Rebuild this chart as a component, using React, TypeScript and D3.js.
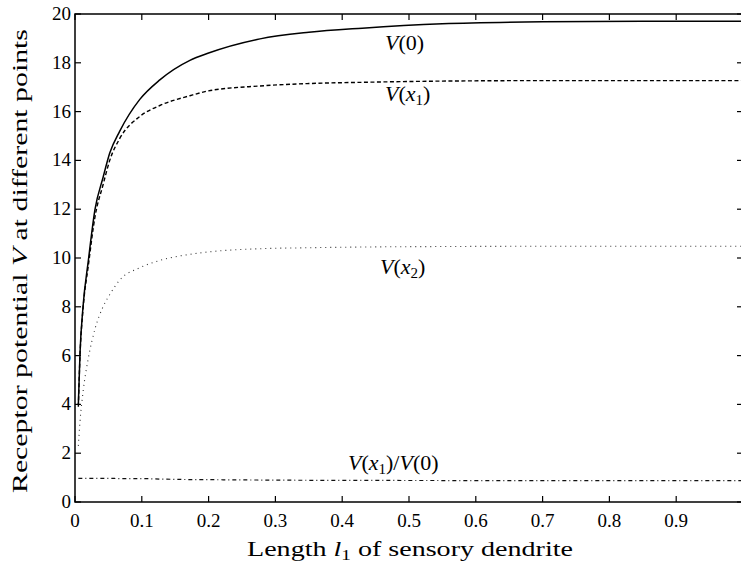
import React from "react";
import * as d3 from "d3";

const lengths = [0.005, 0.0075, 0.012, 0.02, 0.03, 0.042, 0.052, 0.067, 0.097, 0.127, 0.172, 0.2, 0.277, 0.35, 0.43, 0.55, 0.7, 0.85, 1.0];
const vZero = [4.0, 6.1, 8.0, 9.9, 12.0, 13.3, 14.3, 15.2, 16.5, 17.3, 18.1, 18.4, 18.98, 19.25, 19.42, 19.6, 19.68, 19.7, 19.7];
const vX1 = [3.9, 6.0, 7.9, 9.7, 11.7, 13.0, 14.0, 14.9, 15.8, 16.25, 16.65, 16.85, 17.05, 17.15, 17.2, 17.25, 17.27, 17.27, 17.27];
const vX2 = [2.3, 3.3, 4.5, 5.9, 7.1, 8.0, 8.5, 9.1, 9.6, 9.9, 10.15, 10.25, 10.38, 10.42, 10.45, 10.47, 10.48, 10.48, 10.48];
const ratio = [0.97, 0.97, 0.97, 0.97, 0.97, 0.97, 0.97, 0.96, 0.96, 0.94, 0.92, 0.915, 0.9, 0.89, 0.885, 0.88, 0.878, 0.878, 0.878];

const xTicks = [0, 0.1, 0.2, 0.3, 0.4, 0.5, 0.6, 0.7, 0.8, 0.9];
const yTicks = [0, 2, 4, 6, 8, 10, 12, 14, 16, 18, 20];

const W = 741;
const H = 569;
const FONT = "Liberation Serif";

export default function App() {
  const x = d3.scaleLinear().domain([0, 1]).range([75, 743]);
  const y = d3.scaleLinear().domain([0, 20]).range([502, 14]);

  const mk = (vals: number[]) =>
    d3
      .line<number>()
      .x((_, i) => x(lengths[i]))
      .y((v) => y(v))
      .curve(d3.curveMonotoneX)(vals) || "";

  const tickLen = 6;
  const sub = (t: string) => (
    <tspan style={{ fontSize: 15, fontFamily: FONT }} dy={4}>{t}</tspan>
  );
  const it = { fontStyle: "italic" as const, fontFamily: FONT };
  const ts = (size: number) => ({ fontFamily: FONT, fontSize: size });

  return (
    <svg
      width={W}
      height={H}
      style={{ position: "absolute", left: 0, top: 0, background: "#fff" }}
    >
      <rect x={0} y={0} width={W} height={H} fill="#fff" />
      {/* curves */}
      <path d={mk(vZero)} fill="none" stroke="#000" strokeWidth={1.5} />
      <path d={mk(vX1)} fill="none" stroke="#000" strokeWidth={1.4} strokeDasharray="4,2.5" />
      <path d={mk(vX2)} fill="none" stroke="#333" strokeWidth={1.1} strokeDasharray="1,4" />
      <path d={mk(ratio)} fill="none" stroke="#111" strokeWidth={1.2} strokeDasharray="4,3,1,3" />

      {/* frame */}
      <rect
        x={x(0)}
        y={y(20)}
        width={x(1) - x(0)}
        height={y(0) - y(20)}
        fill="none"
        stroke="#000"
        strokeWidth={1.5}
      />
      {/* ticks */}
      {xTicks.map((t) => (
        <g key={"xt" + t}>
          <line x1={x(t)} x2={x(t)} y1={y(0)} y2={y(0) - tickLen} stroke="#000" strokeWidth={1.2} />
          <line x1={x(t)} x2={x(t)} y1={y(20)} y2={y(20) + tickLen} stroke="#000" strokeWidth={1.2} />
          <text x={x(t)} y={527} textAnchor="middle" style={ts(19)}>
            {t === 0 ? "0" : String(t)}
          </text>
        </g>
      ))}
      {yTicks.map((t) => (
        <g key={"yt" + t}>
          <line x1={x(0)} x2={x(0) + tickLen} y1={y(t)} y2={y(t)} stroke="#000" strokeWidth={1.2} />
          <line x1={x(1)} x2={x(1) - tickLen} y1={y(t)} y2={y(t)} stroke="#000" strokeWidth={1.2} />
          <text x={71} y={y(t) + 6} textAnchor="end" style={ts(19)}>
            {String(t)}
          </text>
        </g>
      ))}

      {/* curve labels */}
      <text x={385} y={50} style={ts(22)}>
        <tspan style={it}>V</tspan>(0)
      </text>
      <text x={385} y={101} style={ts(22)}>
        <tspan style={it}>V</tspan>(<tspan style={it}>x</tspan>
        {sub("1")}
        <tspan dy={-4}>)</tspan>
      </text>
      <text x={380} y={274} style={ts(22)}>
        <tspan style={it}>V</tspan>(<tspan style={it}>x</tspan>
        {sub("2")}
        <tspan dy={-4}>)</tspan>
      </text>
      <text x={348} y={470} style={ts(22)}>
        <tspan style={it}>V</tspan>(<tspan style={it}>x</tspan>
        {sub("1")}
        <tspan dy={-4}>)/</tspan>
        <tspan style={it}>V</tspan>(0)
      </text>

      {/* axis titles */}
      <text x={410} y={556} textAnchor="middle" style={ts(22)} textLength={326} lengthAdjust="spacingAndGlyphs">
        Length <tspan style={it}>l</tspan>
        {sub("1")}
        <tspan dy={-4}> of sensory dendrite</tspan>
      </text>
      <text
        transform={`translate(27, 261) rotate(-90)`}
        textAnchor="middle"
        style={ts(22)}
        textLength={464}
        lengthAdjust="spacingAndGlyphs"
      >
        Receptor potential <tspan style={it}>V</tspan> at different points
      </text>
    </svg>
  );
}
